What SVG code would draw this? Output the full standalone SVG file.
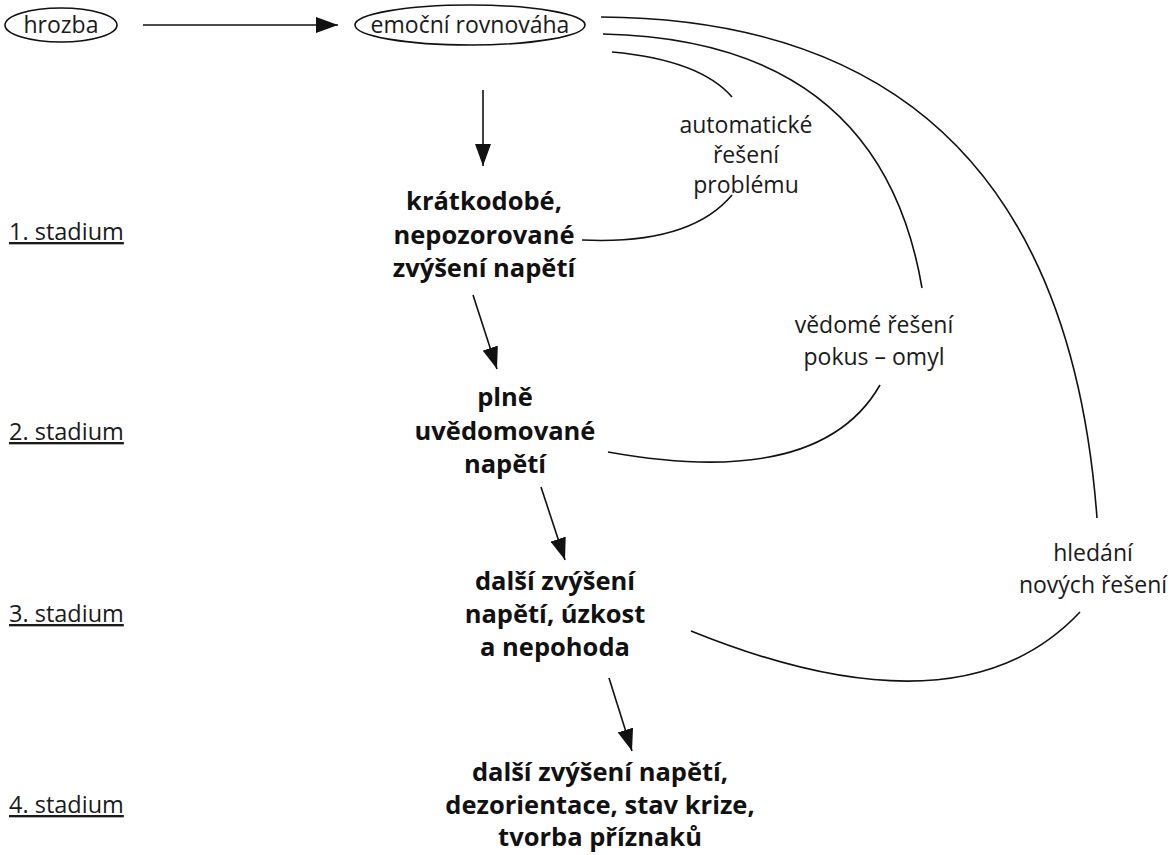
<svg xmlns="http://www.w3.org/2000/svg" width="1172" height="855" viewBox="0 0 1172 855">
<style>
.t{font-family:"Open Sans","Noto Sans",sans-serif;font-size:23px;fill:#1a1a1a;text-anchor:middle}
.b{font-family:"Open Sans","Noto Sans",sans-serif;font-size:25.5px;font-weight:bold;fill:#111;text-anchor:middle}
.s{font-family:"Open Sans","Noto Sans",sans-serif;font-size:23.5px;fill:#1a1a1a;text-decoration:underline}
.e{fill:#fff;stroke:#111;stroke-width:1.6}
.c{fill:none;stroke:#111;stroke-width:1.6}
.a{fill:none;stroke:#111;stroke-width:1.6;marker-end:url(#ah)}
</style>
<defs>
<marker id="ah" viewBox="0 0 22 16" refX="22" refY="8" markerWidth="22" markerHeight="16" markerUnits="userSpaceOnUse" orient="auto">
<path d="M0,0 L22,8 L0,16 Z" fill="#111"/>
</marker>
</defs>
<rect width="1172" height="855" fill="#fff"/>
<g id="connectors">
<line class="a" x1="143" y1="25" x2="338" y2="25"/>
<line class="a" x1="483" y1="90" x2="483" y2="166"/>
<line class="a" x1="473" y1="295" x2="497" y2="369"/>
<line class="a" x1="541" y1="487" x2="565" y2="560"/>
<line class="a" x1="609" y1="678" x2="632" y2="751"/>
<path class="c" d="M612,52 Q700,60 732,97"/>
<path class="c" d="M732,195 Q690,245 582,240"/>
<path class="c" d="M603,34 Q880,40 922,288"/>
<path class="c" d="M880,385 Q820,490 608,452"/>
<path class="c" d="M601,17 Q1060,20 1097,518"/>
<path class="c" d="M1080,612 Q960,740 691,631"/>
</g>
<g id="hrozba"><ellipse class="e" cx="61" cy="25" rx="56" ry="17"/><text class="t" x="61" y="33">hrozba</text></g>
<g id="emocni"><ellipse class="e" cx="470" cy="25" rx="115" ry="20"/><text class="t" x="470" y="33">emoční rovnováha</text></g>
<g id="stadium1"><text class="s" x="9" y="240">1. stadium</text></g>
<g id="stadium2"><text class="s" x="9" y="440">2. stadium</text></g>
<g id="stadium3"><text class="s" x="9" y="622">3. stadium</text></g>
<g id="stadium4"><text class="s" x="9" y="813">4. stadium</text></g>
<g id="n1"><text class="b"><tspan x="484" y="210">krátkodobé,</tspan><tspan x="484" y="244">nepozorované</tspan><tspan x="484" y="277">zvýšení napětí</tspan></text></g>
<g id="n2"><text class="b"><tspan x="505" y="406">plně</tspan><tspan x="505" y="440">uvědomované</tspan><tspan x="505" y="473">napětí</tspan></text></g>
<g id="n3"><text class="b"><tspan x="555" y="590">další zvýšení</tspan><tspan x="555" y="623">napětí, úzkost</tspan><tspan x="555" y="656">a nepohoda</tspan></text></g>
<g id="n4"><text class="b"><tspan x="600" y="781">další zvýšení napětí,</tspan><tspan x="600" y="814">dezorientace, stav krize,</tspan><tspan x="600" y="846">tvorba příznaků</tspan></text></g>
<g id="l1"><text class="t"><tspan x="746" y="133">automatické</tspan><tspan x="746" y="163">řešení</tspan><tspan x="746" y="193">problému</tspan></text></g>
<g id="l2"><text class="t"><tspan x="874" y="333">vědomé řešení</tspan><tspan x="874" y="365">pokus – omyl</tspan></text></g>
<g id="l3"><text class="t"><tspan x="1093" y="561">hledání</tspan><tspan x="1093" y="593">nových řešení</tspan></text></g>
</svg>
